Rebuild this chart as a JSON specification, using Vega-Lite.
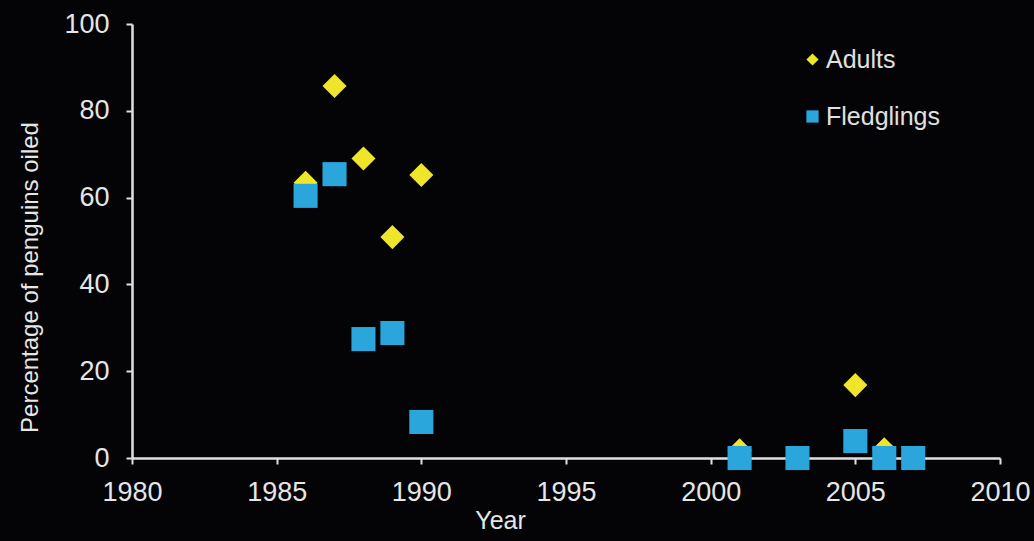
{
  "$schema": "https://vega.github.io/schema/vega-lite/v6.json",
  "width": 868,
  "height": 434,
  "autosize": {"type": "none"},
  "padding": {"left": 132, "top": 24, "right": 34, "bottom": 83},
  "background": "#040406",
  "config": {
    "view": {"stroke": null},
    "font": "Liberation Sans"
  },
  "data": {
    "values": [
      {"year": 1986, "series": "Adults", "pct": 63.4},
      {"year": 1987, "series": "Adults", "pct": 85.7},
      {"year": 1988, "series": "Adults", "pct": 69},
      {"year": 1989, "series": "Adults", "pct": 50.9},
      {"year": 1990, "series": "Adults", "pct": 65.2},
      {"year": 2001, "series": "Adults", "pct": 1.8},
      {"year": 2003, "series": "Adults", "pct": 0},
      {"year": 2005, "series": "Adults", "pct": 16.8},
      {"year": 2006, "series": "Adults", "pct": 2},
      {"year": 2007, "series": "Adults", "pct": 0},
      {"year": 1986, "series": "Fledglings", "pct": 60.4},
      {"year": 1987, "series": "Fledglings", "pct": 65.4},
      {"year": 1988, "series": "Fledglings", "pct": 27.4},
      {"year": 1989, "series": "Fledglings", "pct": 28.8},
      {"year": 1990, "series": "Fledglings", "pct": 8.3},
      {"year": 2001, "series": "Fledglings", "pct": 0},
      {"year": 2003, "series": "Fledglings", "pct": 0},
      {"year": 2005, "series": "Fledglings", "pct": 3.9},
      {"year": 2006, "series": "Fledglings", "pct": 0},
      {"year": 2007, "series": "Fledglings", "pct": 0}
    ]
  },
  "mark": {"type": "point", "filled": true, "opacity": 1, "size": 580},
  "encoding": {
    "x": {
      "field": "year",
      "type": "quantitative",
      "scale": {"domain": [1980, 2010], "nice": false, "zero": false},
      "axis": {
        "title": "Year",
        "values": [1980, 1985, 1990, 1995, 2000, 2005, 2010],
        "format": "d",
        "grid": false,
        "domainColor": "#e0e0e0",
        "domainWidth": 2.5,
        "tickColor": "#e0e0e0",
        "tickWidth": 2,
        "tickSize": 6,
        "labelColor": "#e6e6e6",
        "labelFontSize": 27,
        "labelBaseline": "top",
        "labelPadding": 15,
        "labelFlush": false,
        "titleColor": "#e6e6e6",
        "titleFontSize": 25,
        "titleFontWeight": "normal",
        "titleX": 368,
        "titleY": 62,
        "titleBaseline": "middle"
      }
    },
    "y": {
      "field": "pct",
      "type": "quantitative",
      "scale": {"domain": [0, 100], "nice": false},
      "axis": {
        "title": "Percentage of penguins oiled",
        "values": [0, 20, 40, 60, 80, 100],
        "grid": false,
        "domainColor": "#e0e0e0",
        "domainWidth": 2.5,
        "tickColor": "#e0e0e0",
        "tickWidth": 2,
        "tickSize": 6,
        "labelColor": "#e6e6e6",
        "labelFontSize": 27,
        "labelPadding": 17,
        "labelFlush": false,
        "titleColor": "#e6e6e6",
        "titleFontSize": 24,
        "titleFontWeight": "normal",
        "titleX": -102,
        "titleY": 253,
        "titleAngle": -90,
        "titleAlign": "center",
        "titleBaseline": "middle"
      }
    },
    "color": {
      "field": "series",
      "type": "nominal",
      "scale": {"domain": ["Adults", "Fledglings"], "range": ["#efe52a", "#2aa6dc"]},
      "legend": {
        "title": null,
        "orient": "none",
        "legendX": 668,
        "legendY": 23,
        "symbolSize": 150,
        "labelColor": "#e0e0e0",
        "labelFontSize": 25,
        "labelOffset": 1,
        "rowPadding": 31,
        "symbolOpacity": 1
      }
    },
    "shape": {
      "field": "series",
      "type": "nominal",
      "scale": {"domain": ["Adults", "Fledglings"], "range": ["diamond", "square"]}
    }
  }
}
